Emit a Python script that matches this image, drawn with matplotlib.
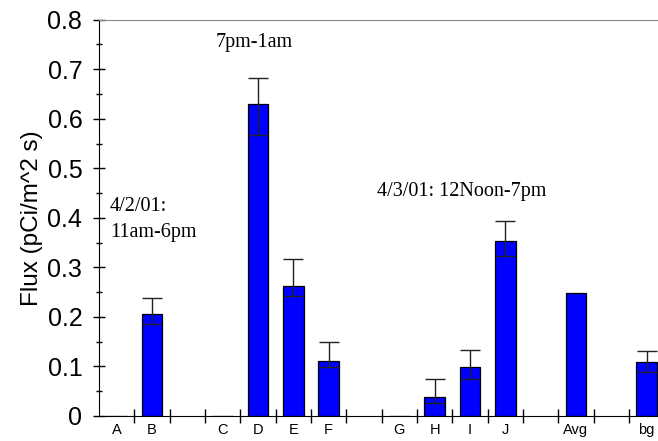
import numpy as np
import matplotlib
matplotlib.use('Agg')
import matplotlib.pyplot as plt

# slots along the x axis, blank names are the gaps between runs
categories = ['A', 'B', '', 'C', 'D', 'E', 'F', '', 'G', 'H', 'I', 'J', '', 'Avg', '', 'bg']
nan = np.nan
flux = [0, 0.206, nan, 0, 0.630, 0.2615, 0.1115, nan,
        0, 0.038, 0.098, 0.354, nan, 0.249, nan, 0.108]
err_upper = [nan, 0.239, nan, nan, 0.683, 0.3165, 0.149, nan,
             nan, 0.074, 0.134, 0.393, nan, nan, nan, 0.131]
err_lower = [nan, 0.186, nan, nan, 0.567, 0.242, 0.099, nan,
             nan, 0.0256, 0.0746, 0.322, nan, nan, nan, 0.088]
yticks = [0, 0.1, 0.2, 0.3, 0.4, 0.5, 0.6, 0.7, 0.8]
ytick_labels = ['0', '0.1', '0.2', '0.3', '0.4', '0.5', '0.6', '0.7', '0.8']

sans = 'Liberation Sans'
serif = 'Liberation Serif'

fig = plt.figure(figsize=(6.58, 4.41), dpi=100)
ax = fig.add_axes([0.1505, 0.0567, 0.859, 0.8986])

x = np.arange(len(categories))
flux = np.array(flux)
up = np.array(err_upper) - flux
lo = flux - np.array(err_lower)

ax.bar(x, flux, width=0.58, color='#0000ff', edgecolor='black', linewidth=0.9, zorder=2)
ax.errorbar(x, flux, yerr=[lo, up], fmt='none', ecolor='#222222',
            elinewidth=1, capsize=7.2, capthick=1, zorder=3)

ax.set_xlim(-0.5, len(categories) - 0.5)
ax.set_ylim(0, 0.8)

# ticks at slot boundaries, labels centred in each slot
ax.set_xticks(np.arange(len(categories) - 1) + 0.5)
ax.set_xticklabels([])
ax.set_xticks(x, minor=True)
ax.set_xticklabels(categories, minor=True, fontsize=10.5, fontfamily=sans)
ax.tick_params(axis='x', which='major', direction='inout', length=9.5, width=1)
ax.tick_params(axis='x', which='minor', length=0, pad=5)

ax.set_yticks(yticks)
ax.set_yticklabels(ytick_labels, fontsize=18, fontfamily=sans)
ax.set_yticks(np.arange(0.05, 0.8, 0.1), minor=True)
ax.tick_params(axis='y', which='major', direction='inout', length=8, width=1, pad=8)
ax.tick_params(axis='y', which='minor', direction='inout', length=4, width=1)

ax.set_ylabel('Flux (pCi/m^2 s)', fontsize=17.5, fontfamily=sans, labelpad=3)

ax.spines['top'].set_color('#888888')
ax.spines['right'].set_visible(False)

ax.text(2.79, 0.7446, '7pm-1am', fontsize=14.5, fontfamily=serif, va='baseline')
ax.text(-0.19, 0.414, '4/2/01:', fontsize=14.5, fontfamily=serif, va='baseline')
ax.text(-0.19, 0.3615, '11am-6pm', fontsize=14.5, fontfamily=serif, va='baseline')
ax.text(7.375, 0.444, '4/3/01: 12Noon-7pm', fontsize=14.5, fontfamily=serif, va='baseline')

fig.savefig('out.png', dpi=100)
